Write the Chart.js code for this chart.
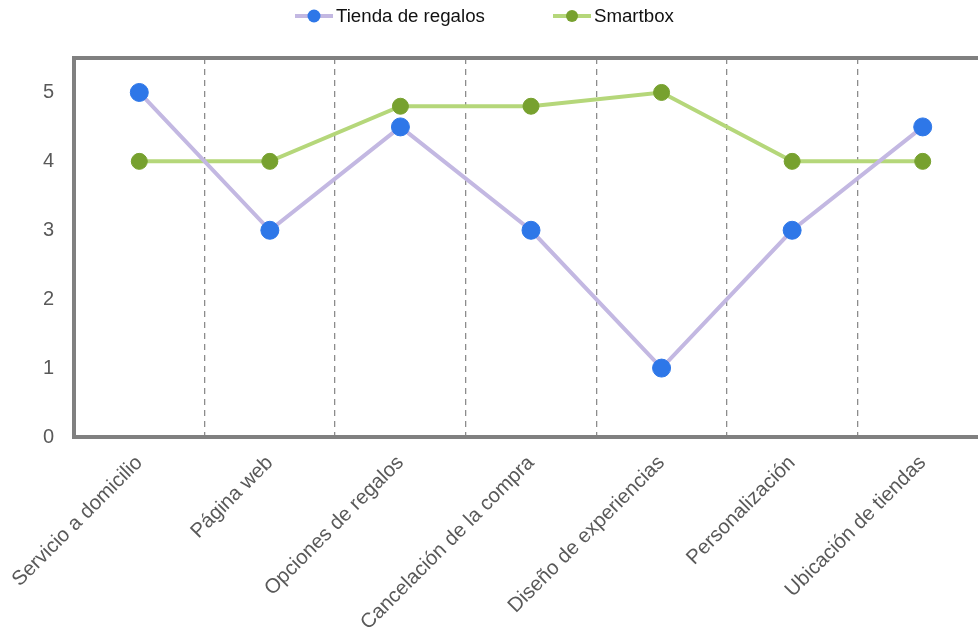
<!DOCTYPE html>
<html><head><meta charset="utf-8">
<script src="https://cdn.jsdelivr.net/npm/chart.js@4.4.1/dist/chart.umd.min.js"></script>
<style>
html,body{margin:0;padding:0;overflow:hidden;background:#fff;width:978px;height:631px;}
#wrap{position:absolute;left:0;top:0;width:998px;height:631px;}
#legend{position:absolute;top:6px;left:295px;height:20px;display:flex;align-items:center;font-family:"Liberation Sans",Arial,sans-serif;font-size:18.7px;color:#111;white-space:nowrap;}
.item{display:flex;align-items:center;}
.icon{position:relative;width:38px;height:16px;display:inline-block;}
.icon .ln{position:absolute;left:0;right:0;top:6px;height:4px;}
.icon .dt{position:absolute;left:50%;top:50%;border-radius:50%;transform:translate(-50%,-50%);}
.txt{margin-left:3px;}
</style></head><body>
<div id="wrap"><canvas id="c"></canvas></div>
<div id="legend"></div>
<script>
const categories = ["Servicio a domicilio","Página web","Opciones de regalos","Cancelación de la compra","Diseño de experiencias","Personalización","Ubicación de tiendas"];
const seriesNames = ["Tienda de regalos","Smartbox"];
const tiendaValues = [5, 3, 4.5, 3, 1, 3, 4.5];
const smartboxValues = [4, 4, 4.8, 4.8, 5, 4, 4];
const yMin = 0, yMax = 5.5, yStep = 1;

const lineColors = ["#c3b8e2", "#b5d77a"];
const dotColors = ["#2e77e8", "#77a12f"];
const dotRadius = [9, 8];
const legendDot = [13, 12];

// HTML legend
const lg = document.getElementById('legend');
seriesNames.forEach((name, i) => {
  const it = document.createElement('div');
  it.className = 'item';
  if (i > 0) it.style.marginLeft = '68px';
  it.innerHTML = '<span class="icon"><span class="ln" style="background:' + lineColors[i] + '"></span><span class="dt" style="width:' + legendDot[i] + 'px;height:' + legendDot[i] + 'px;background:' + dotColors[i] + '"></span></span><span class="txt">' + name + '</span>';
  lg.appendChild(it);
});

const frame = {
  id: 'frame',
  beforeDatasetsDraw(chart) {
    const {ctx, chartArea} = chart;
    ctx.save();
    ctx.strokeStyle = '#808080';
    ctx.lineWidth = 4;
    ctx.beginPath();
    ctx.moveTo(chartArea.left - 2, chartArea.top);
    ctx.lineTo(chartArea.right + 2, chartArea.top);
    ctx.stroke();
    ctx.restore();
  }
};

const font = {family: '"Liberation Sans", Arial, sans-serif'};
new Chart(document.getElementById('c'), {
  type: 'line',
  data: {
    labels: categories,
    datasets: [tiendaValues, smartboxValues].map((vals, i) => ({
      label: seriesNames[i],
      data: vals,
      borderColor: lineColors[i],
      backgroundColor: dotColors[i],
      borderWidth: 4,
      tension: 0,
      pointRadius: dotRadius[i],
      pointHoverRadius: dotRadius[i],
      pointBackgroundColor: dotColors[i],
      pointBorderColor: dotColors[i],
      pointBorderWidth: 1
    }))
  },
  options: {
    responsive: true,
    maintainAspectRatio: false,
    animation: false,
    layout: {padding: {top: 58, left: 42, right: 0, bottom: 0}},
    plugins: {legend: {display: false}, tooltip: {enabled: false}},
    scales: {
      x: {
        offset: true,
        afterFit: s => { s.paddingLeft = 0; s.paddingRight = 0; s.height = 194; },
        grid: {offset: true, color: '#8c8c8c', lineWidth: 1.3, drawTicks: false},
        border: {display: true, width: 4, color: '#808080', dash: [6, 5]},
        ticks: {minRotation: 45, maxRotation: 45, padding: 14, color: '#595959', font: {...font, size: 20.4}}
      },
      y: {
        min: yMin, max: yMax,
        afterFit: s => { s.width = 32; },
        grid: {display: false, drawTicks: false},
        border: {display: true, width: 4, color: '#808080'},
        ticks: {stepSize: yStep, includeBounds: false, padding: 20, color: '#595959', font: {...font, size: 20}}
      }
    }
  },
  plugins: [frame]
});
</script>
</body></html>
